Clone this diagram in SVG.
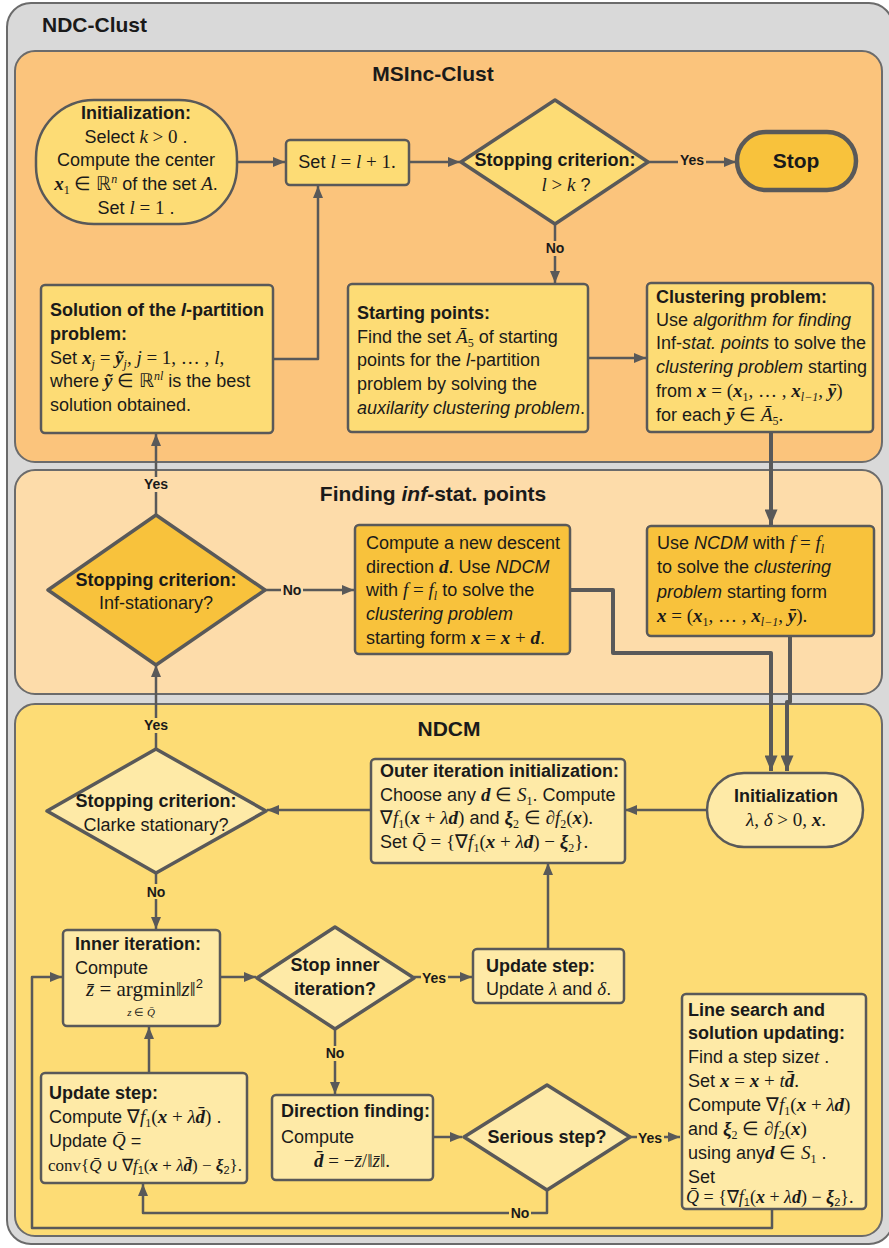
<svg xmlns="http://www.w3.org/2000/svg" width="889" height="1248" viewBox="0 0 889 1248">
<defs>
<style>
.t{font-family:"Liberation Sans",Arial,sans-serif;font-size:18px;fill:#1a1a1a}
.b{font-weight:bold}
.i{font-style:italic}
.m{font-family:"Liberation Serif","Times New Roman",serif;font-style:italic;font-size:19px}
.mb{font-family:"Liberation Serif","Times New Roman",serif;font-style:italic;font-weight:bold;font-size:19px}
.r{font-family:"Liberation Serif","Times New Roman",serif;font-size:19px}
.s{font-size:12px}
.ttl{font-family:"Liberation Sans",Arial,sans-serif;font-size:21px;font-weight:bold;fill:#1a1a1a}
.lbl{font-family:"Liberation Sans",Arial,sans-serif;font-size:14px;font-weight:bold;fill:#1a1a1a;text-anchor:middle}
.node{stroke:#595959;stroke-width:2.5}
.y1{fill:#fddc75}
.y2{fill:#f8c23c}
.y3{fill:#feeaa7}
.c{fill:none;stroke:#595959;stroke-width:2.5;stroke-linejoin:round}
.ck{fill:none;stroke:#595959;stroke-width:4;stroke-linejoin:round}
.mid{text-anchor:middle}
.f18 tspan.m,.f18 tspan.mb,.f18 tspan.r{font-size:18px}
.f17 tspan.m,.f17 tspan.mb,.f17 tspan.r{font-size:17px}
.f21 tspan.m,.f21 tspan.r{font-size:21px}
.f11 tspan.m,.f11 tspan.r{font-size:11px}
tspan.ss{font-size:11px}
tspan.s13{font-size:13px}
</style>
<marker id="ah" viewBox="0 0 12 10" refX="12" refY="5" markerWidth="12" markerHeight="10" markerUnits="userSpaceOnUse" orient="auto"><path d="M0,0 L12,5 L0,10 z" fill="#595959"/></marker>
<marker id="ahk" viewBox="0 0 12 10" refX="12" refY="5" markerWidth="16" markerHeight="13" markerUnits="userSpaceOnUse" orient="auto"><path d="M0,0 L12,5 L0,10 z" fill="#595959"/></marker>
</defs>

<g id="containers">
<rect x="7" y="3" width="886" height="1241" rx="24" fill="#d9d9d9" stroke="#6b6b6b" stroke-width="2"/>
<text class="ttl" x="42" y="32">NDC-Clust</text>
<rect x="15" y="51" width="867" height="411" rx="20" fill="#fbc47c" stroke="#6b6b6b" stroke-width="2"/>
<text class="ttl mid" x="433" y="81">MSInc-Clust</text>
<rect x="15" y="470" width="867" height="224" rx="20" fill="#fddcaa" stroke="#6b6b6b" stroke-width="2"/>
<text class="ttl mid" x="433" y="501">Finding <tspan class="i">inf</tspan>-stat. points</text>
<rect x="15" y="704" width="867" height="532" rx="20" fill="#fddc75" stroke="#6b6b6b" stroke-width="2"/>
<text class="ttl mid" x="449" y="736">NDCM</text>
</g>

<g id="connectors">
<path class="c" d="M237,162 H285" marker-end="url(#ah)"/>
<path class="c" d="M409,162 H460" marker-end="url(#ah)"/>
<path class="c" d="M648,162 H736" marker-end="url(#ah)"/>
<path class="c" d="M555,224 V283" marker-end="url(#ah)"/>
<path class="c" d="M273,359 H318 V186" marker-end="url(#ah)"/>
<path class="c" d="M588,358 H646" marker-end="url(#ah)"/>
<path class="ck" d="M771,432 V525" marker-end="url(#ahk)"/>
<path class="c" d="M156,515 V434" marker-end="url(#ah)"/>
<path class="c" d="M265,590 H354" marker-end="url(#ah)"/>
<path class="ck" d="M570,590 H613 V653 H771 V771" marker-end="url(#ahk)"/>
<path class="ck" d="M790,637 V702 H787 V771" marker-end="url(#ahk)"/>
<path class="c" d="M156,749 V665" marker-end="url(#ah)"/>
<path class="c" d="M707,810 H625" marker-end="url(#ah)"/>
<path class="c" d="M371,810 H267" marker-end="url(#ah)"/>
<path class="c" d="M156,873 V929" marker-end="url(#ah)"/>
<path class="c" d="M220,977 H256" marker-end="url(#ah)"/>
<path class="c" d="M414,977 H472" marker-end="url(#ah)"/>
<path class="c" d="M548,949 V863" marker-end="url(#ah)"/>
<path class="c" d="M335,1029 V1094" marker-end="url(#ah)"/>
<path class="c" d="M432,1137 H462" marker-end="url(#ah)"/>
<path class="c" d="M630,1137 H680" marker-end="url(#ah)"/>
<path class="c" d="M547,1190 V1213 H143 V1184" marker-end="url(#ah)"/>
<path class="c" d="M149,1073 V1027" marker-end="url(#ah)"/>
<path class="c" d="M772,1210 V1228 H32 V977 H62" marker-end="url(#ah)"/>
</g>

<g id="init">
<rect class="node y1" x="36" y="100" width="201" height="124" rx="58"/>
<text class="t b mid" x="136" y="119">Initialization:</text>
<text class="t mid" x="136" y="143">Select <tspan class="m">k</tspan><tspan class="r"> &gt; 0</tspan> .</text>
<text class="t mid" x="136" y="166">Compute the center</text>
<text class="t mid" x="136" y="190"><tspan class="mb">x</tspan><tspan class="r s" dy="4">1</tspan><tspan class="r" dy="-4"> ∈ ℝ</tspan><tspan class="m s" dy="-7">n</tspan><tspan dy="7"> of the set </tspan><tspan class="m">A</tspan>.</text>
<text class="t mid" x="136" y="214">Set <tspan class="m">l</tspan><tspan class="r"> = 1</tspan> .</text>
</g>

<g id="setl">
<rect class="node y1" x="286" y="140" width="123" height="45" rx="4"/>
<text class="t mid" x="347" y="168">Set <tspan class="m">l</tspan><tspan class="r"> = </tspan><tspan class="m">l</tspan><tspan class="r"> + 1.</tspan></text>
</g>

<g id="stop1">
<polygon class="y1" points="555,100 648,162 555,224 461,162" stroke="#595959" stroke-width="3.5" stroke-linejoin="round"/>
<text class="t b mid" x="555" y="166">Stopping criterion:</text>
<text class="t mid" x="566" y="191"><tspan class="m">l</tspan><tspan class="r"> &gt; </tspan><tspan class="m">k</tspan> ?</text>
</g>

<g id="stop">
<rect class="y2" x="737" y="132" width="119" height="58" rx="29" stroke="#595959" stroke-width="4.5"/>
<text class="ttl mid" x="796" y="168">Stop</text>
</g>

<g id="solution">
<rect class="node y1" x="41" y="285" width="232" height="148" rx="4"/>
<text class="t b" x="50" y="316">Solution of the <tspan class="i">l</tspan>-partition</text>
<text class="t b" x="50" y="340">problem:</text>
<text class="t" x="50" y="364">Set <tspan class="mb">x</tspan><tspan class="m s" dy="4">j</tspan><tspan class="r" dy="-4"> = </tspan><tspan class="mb">ỹ</tspan><tspan class="m s" dy="4">j</tspan><tspan class="r" dy="-4">, </tspan><tspan class="m">j</tspan><tspan class="r"> = 1, … , </tspan><tspan class="m">l</tspan><tspan class="r">,</tspan></text>
<text class="t" x="50" y="387">where <tspan class="mb">ỹ</tspan><tspan class="r"> ∈ ℝ</tspan><tspan class="m s" dy="-7">nl</tspan><tspan dy="7"> is the best</tspan></text>
<text class="t" x="50" y="411">solution obtained.</text>
</g>

<g id="starting">
<rect class="node y1" x="348" y="284" width="240" height="148" rx="4"/>
<text class="t b" x="357" y="319">Starting points:</text>
<text class="t" x="357" y="343">Find the set <tspan class="m">Ā</tspan><tspan class="r s" dy="4">5</tspan><tspan dy="-4"> of starting</tspan></text>
<text class="t" x="357" y="366">points for the <tspan class="i">l</tspan>-partition</text>
<text class="t" x="357" y="390">problem by solving the</text>
<text class="t" x="357" y="414"><tspan class="i">auxilarity clustering problem</tspan>.</text>
</g>

<g id="clustering">
<rect class="node y1" x="647" y="283" width="226" height="149" rx="4"/>
<text class="t b" x="656" y="303">Clustering problem:</text>
<text class="t" x="656" y="326">Use <tspan class="i">algorithm for finding</tspan></text>
<text class="t" x="656" y="349">Inf-<tspan class="i">stat. points</tspan> to solve the</text>
<text class="t" x="656" y="373"><tspan class="i">clustering problem</tspan> starting</text>
<text class="t" x="656" y="397">from <tspan class="mb">x</tspan><tspan class="r"> = (</tspan><tspan class="mb">x</tspan><tspan class="r s" dy="4">1</tspan><tspan class="r" dy="-4">, … , </tspan><tspan class="mb">x</tspan><tspan class="m s" dy="4">l−1</tspan><tspan class="r" dy="-4">, </tspan><tspan class="mb">ȳ</tspan><tspan class="r">)</tspan></text>
<text class="t" x="656" y="421">for each <tspan class="mb">ȳ</tspan><tspan class="r"> ∈ </tspan><tspan class="m">Ā</tspan><tspan class="r s" dy="4">5</tspan><tspan class="r" dy="-4">.</tspan></text>
</g>

<g id="finding-diamond">
<polygon class="y2" points="156,515 265,590 156,665 48,590" stroke="#595959" stroke-width="3.5" stroke-linejoin="round"/>
<text class="t b mid" x="156" y="586">Stopping criterion:</text>
<text class="t mid" x="156" y="609">Inf-stationary?</text>
</g>

<g id="compute">
<rect class="node y2" x="355" y="525" width="215" height="129" rx="4"/>
<text class="t" x="366" y="549">Compute a new descent</text>
<text class="t" x="366" y="573">direction <tspan class="mb">d</tspan>. Use <tspan class="i">NDCM</tspan></text>
<text class="t" x="366" y="596">with <tspan class="m">f</tspan><tspan class="r"> = </tspan><tspan class="m">f</tspan><tspan class="m s" dy="4">l</tspan><tspan dy="-4"> to solve the</tspan></text>
<text class="t" x="366" y="620"><tspan class="i">clustering problem</tspan></text>
<text class="t" x="366" y="644">starting form <tspan class="mb">x</tspan><tspan class="r"> = </tspan><tspan class="mb">x</tspan><tspan class="r"> + </tspan><tspan class="mb">d</tspan>.</text>
</g>

<g id="ncdm">
<rect class="node y2" x="647" y="526" width="227" height="110" rx="4"/>
<text class="t" x="657" y="549">Use <tspan class="i">NCDM</tspan> with <tspan class="m">f</tspan><tspan class="r"> = </tspan><tspan class="m">f</tspan><tspan class="m s" dy="4">l</tspan></text>
<text class="t" x="657" y="573">to solve the <tspan class="i">clustering</tspan></text>
<text class="t" x="657" y="598"><tspan class="i">problem</tspan> starting form</text>
<text class="t" x="657" y="622"><tspan class="mb">x</tspan><tspan class="r"> = (</tspan><tspan class="mb">x</tspan><tspan class="r s" dy="4">1</tspan><tspan class="r" dy="-4">, … , </tspan><tspan class="mb">x</tspan><tspan class="m s" dy="4">l−1</tspan><tspan class="r" dy="-4">, </tspan><tspan class="mb">ȳ</tspan><tspan class="r">).</tspan></text>
</g>

<g id="ndcm-init">
<rect class="node y3" x="707" y="773" width="156" height="74" rx="37" stroke-width="3"/>
<text class="t b mid" x="786" y="802">Initialization</text>
<text class="t mid" x="786" y="826"><tspan class="m">λ</tspan><tspan class="r">, </tspan><tspan class="m">δ</tspan><tspan class="r"> &gt; 0, </tspan><tspan class="mb">x</tspan><tspan class="r">.</tspan></text>
</g>

<g id="outer">
<rect class="node y3" x="371" y="759" width="254" height="104" rx="4"/>
<text class="t b" x="380" y="777">Outer iteration initialization:</text>
<text class="t" x="380" y="801">Choose any <tspan class="mb">d</tspan><tspan class="r"> ∈ </tspan><tspan class="m">S</tspan><tspan class="r s" dy="4">1</tspan><tspan dy="-4">. Compute</tspan></text>
<text class="t" x="380" y="824"><tspan class="r">∇</tspan><tspan class="m">f</tspan><tspan class="r s" dy="4">1</tspan><tspan class="r" dy="-4">(</tspan><tspan class="mb">x</tspan><tspan class="r"> + </tspan><tspan class="m">λ</tspan><tspan class="mb">d</tspan><tspan class="r">)</tspan>  and <tspan class="mb">ξ</tspan><tspan class="r s" dy="4">2</tspan><tspan class="r" dy="-4"> ∈ ∂</tspan><tspan class="m">f</tspan><tspan class="r s" dy="4">2</tspan><tspan class="r" dy="-4">(</tspan><tspan class="mb">x</tspan><tspan class="r">).</tspan></text>
<text class="t" x="380" y="848">Set <tspan class="m">Q̄</tspan><tspan class="r"> = {∇</tspan><tspan class="m">f</tspan><tspan class="r s" dy="4">1</tspan><tspan class="r" dy="-4">(</tspan><tspan class="mb">x</tspan><tspan class="r"> + </tspan><tspan class="m">λ</tspan><tspan class="mb">d</tspan><tspan class="r">) − </tspan><tspan class="mb">ξ</tspan><tspan class="r s" dy="4">2</tspan><tspan class="r" dy="-4">}.</tspan></text>
</g>

<g id="clarke">
<polygon class="y3" points="156,749 266,811 156,873 47,811" stroke="#595959" stroke-width="3.5" stroke-linejoin="round"/>
<text class="t b mid" x="156" y="807">Stopping criterion:</text>
<text class="t mid" x="156" y="831">Clarke stationary?</text>
</g>

<g id="inner">
<rect class="node y3" x="63" y="930" width="157" height="96" rx="4"/>
<text class="t b" x="75" y="950">Inner iteration:</text>
<text class="t" x="75" y="974">Compute</text>
<text class="t f21" x="86" y="996"><tspan class="m">z̄</tspan><tspan class="r"> = argmin‖</tspan><tspan class="m">z</tspan><tspan class="r">‖</tspan><tspan class="s13" dy="-8">2</tspan></text>
<text class="t mid f11" x="141" y="1016"><tspan class="m">z</tspan><tspan class="r"> ∈ </tspan><tspan class="m">Q̄</tspan></text>
</g>

<g id="stop-inner">
<polygon class="y3" points="335,927 414,978 335,1029 257,978" stroke="#595959" stroke-width="3.5" stroke-linejoin="round"/>
<text class="t b mid" x="335" y="971">Stop inner</text>
<text class="t b mid" x="335" y="995">iteration?</text>
</g>

<g id="update-right">
<rect class="node y3" x="473" y="949" width="151" height="54" rx="4"/>
<text class="t b" x="486" y="972">Update step:</text>
<text class="t" x="486" y="995">Update <tspan class="m">λ</tspan> and <tspan class="m">δ</tspan>.</text>
</g>

<g id="direction">
<rect class="node y3" x="272" y="1095" width="161" height="85" rx="4"/>
<text class="t b" x="281" y="1117">Direction finding:</text>
<text class="t" x="281" y="1143">Compute</text>
<text class="t mid" x="352" y="1167"><tspan class="mb">d̄</tspan><tspan class="r"> = −</tspan><tspan class="m">z̄</tspan><tspan class="r">/‖</tspan><tspan class="m">z̄</tspan><tspan class="r">‖.</tspan></text>
</g>

<g id="serious">
<polygon class="y3" points="547,1085 630,1137 547,1190 464,1137" stroke="#595959" stroke-width="3.5" stroke-linejoin="round"/>
<text class="t b mid" x="547" y="1143">Serious step?</text>
</g>

<g id="update-left">
<rect class="node y3" x="41" y="1073" width="206" height="110" rx="4"/>
<text class="t b" x="49" y="1099">Update step:</text>
<text class="t" x="49" y="1123">Compute <tspan class="r">∇</tspan><tspan class="m">f</tspan><tspan class="r s" dy="4">1</tspan><tspan class="r" dy="-4">(</tspan><tspan class="mb">x</tspan><tspan class="r"> + </tspan><tspan class="m">λ</tspan><tspan class="mb">d̄</tspan><tspan class="r">)</tspan>  .</text>
<text class="t" x="49" y="1147">Update <tspan class="m">Q̄</tspan> =</text>
<text class="t f17" x="48" y="1171"><tspan class="r">conv{</tspan><tspan class="m">Q̄</tspan><tspan class="r"> ∪ ∇</tspan><tspan class="m">f</tspan><tspan class="ss" dy="3">1</tspan><tspan class="r" dy="-3">(</tspan><tspan class="mb">x</tspan><tspan class="r"> + </tspan><tspan class="m">λ</tspan><tspan class="mb">d̄</tspan><tspan class="r">) − </tspan><tspan class="mb">ξ</tspan><tspan class="ss" dy="3">2</tspan><tspan class="r" dy="-3">}.</tspan></text>
</g>

<g id="line-search">
<rect class="node y3" x="682" y="994" width="184" height="215" rx="4"/>
<text class="t b" x="688" y="1016">Line search and</text>
<text class="t b" x="688" y="1039">solution updating:</text>
<text class="t" x="688" y="1063">Find a step size<tspan class="m">t</tspan>  .</text>
<text class="t" x="688" y="1087">Set <tspan class="mb">x</tspan><tspan class="r"> = </tspan><tspan class="mb">x</tspan><tspan class="r"> + </tspan><tspan class="m">t</tspan><tspan class="mb">d̄</tspan><tspan class="r">.</tspan></text>
<text class="t" x="688" y="1111">Compute <tspan class="r">∇</tspan><tspan class="m">f</tspan><tspan class="r s" dy="4">1</tspan><tspan class="r" dy="-4">(</tspan><tspan class="mb">x</tspan><tspan class="r"> + </tspan><tspan class="m">λ</tspan><tspan class="mb">d</tspan><tspan class="r">)</tspan></text>
<text class="t" x="688" y="1135">and <tspan class="mb">ξ</tspan><tspan class="r s" dy="4">2</tspan><tspan class="r" dy="-4"> ∈ ∂</tspan><tspan class="m">f</tspan><tspan class="r s" dy="4">2</tspan><tspan class="r" dy="-4">(</tspan><tspan class="mb">x</tspan><tspan class="r">)</tspan></text>
<text class="t" x="688" y="1159">using any<tspan class="mb">d</tspan><tspan class="r"> ∈ </tspan><tspan class="m">S</tspan><tspan class="r s" dy="4">1</tspan><tspan dy="-4">  .</tspan></text>
<text class="t" x="688" y="1183">Set</text>
<text class="t f18" x="686" y="1203"><tspan class="m">Q̄</tspan><tspan class="r"> = {∇</tspan><tspan class="m">f</tspan><tspan class="ss" dy="3">1</tspan><tspan class="r" dy="-3">(</tspan><tspan class="mb">x</tspan><tspan class="r"> + </tspan><tspan class="m">λ</tspan><tspan class="mb">d</tspan><tspan class="r">) − </tspan><tspan class="mb">ξ</tspan><tspan class="ss" dy="3">2</tspan><tspan class="r" dy="-3">}.</tspan></text>
</g>

<g id="labels">
<rect x="678" y="153" width="28" height="15" fill="#fbc47c"/><text class="lbl" x="692" y="165">Yes</text>
<rect x="544" y="241" width="22" height="15" fill="#fbc47c"/><text class="lbl" x="555" y="253">No</text>
<rect x="142" y="477" width="28" height="15" fill="#fddcaa"/><text class="lbl" x="156" y="489">Yes</text>
<rect x="281" y="582" width="22" height="15" fill="#fddcaa"/><text class="lbl" x="292" y="595">No</text>
<rect x="142" y="718" width="28" height="15" fill="#fddc75"/><text class="lbl" x="156" y="730">Yes</text>
<rect x="145" y="884" width="22" height="15" fill="#fddc75"/><text class="lbl" x="156" y="897">No</text>
<rect x="421" y="970" width="27" height="15" fill="#fddc75"/><text class="lbl" x="434" y="983">Yes</text>
<rect x="324" y="1046" width="22" height="15" fill="#fddc75"/><text class="lbl" x="335" y="1058">No</text>
<rect x="637" y="1130" width="27" height="15" fill="#fddc75"/><text class="lbl" x="650" y="1143">Yes</text>
<rect x="509" y="1206" width="22" height="15" fill="#fddc75"/><text class="lbl" x="520" y="1218">No</text>
</g>
</svg>
